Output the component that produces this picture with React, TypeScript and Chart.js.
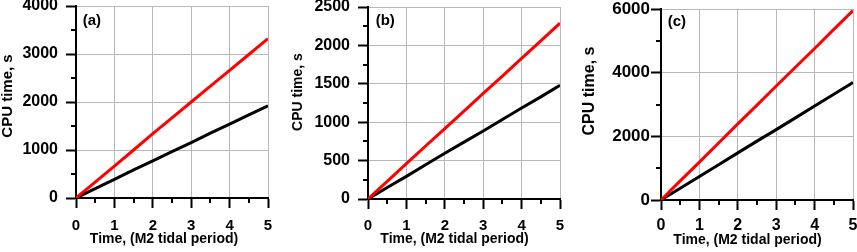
import React, { useEffect, useRef } from "react";
import { Chart, registerables } from "chart.js";

Chart.register(...registerables);

// ---- data ----
const TIME = [0, 0.5, 1, 1.5, 2, 2.5, 3, 3.5, 4, 4.5, 5];

const RED_A = [0, 330, 665, 1000, 1340, 1670, 2000, 2330, 2660, 2990, 3320];
const BLACK_A = [0, 195, 390, 585, 775, 965, 1155, 1350, 1540, 1730, 1920];

const RED_B = [0, 230, 460, 690, 915, 1145, 1375, 1600, 1830, 2060, 2290];
const BLACK_B = [0, 150, 295, 445, 595, 740, 885, 1035, 1185, 1330, 1480];

const RED_C = [0, 600, 1190, 1790, 2390, 2980, 3580, 4170, 4760, 5360, 5950];
const BLACK_C = [0, 370, 740, 1110, 1480, 1850, 2210, 2580, 2950, 3320, 3690];

const PANEL_LABELS = ["(a)", "(b)", "(c)"];
const Y_MAX = [4000, 2500, 6000];
const Y_STEP = [1000, 500, 2000];
const X_MAX = 5;
const X_STEP = 1;
const X_TITLE = "Time, (M2 tidal period)";
const Y_TITLE = "CPU time, s";

const RED_SERIES = [RED_A, RED_B, RED_C];
const BLACK_SERIES = [BLACK_A, BLACK_B, BLACK_C];

// ---- layout / style ----
const FONT = "'Liberation Sans', Arial, Helvetica, sans-serif";
const GRID = "#b8b8b8";
const H = 252;

const LAYOUT = [
  { left: 0, width: 285, plotLeft: 76, plotRight: 268, plotTop: 6, plotBottom: 198,
    yTickSize: 16, yTickPad: 8, xTickSize: 15, xTickPad: 9,
    yTitleSize: 15, yTitleX: 8, yTitleY: 96, xTitleDx: -8, xTitleY: 239, labelDx: 6.7, labelY: 25 },
  { left: 285, width: 285, plotLeft: 83, plotRight: 275, plotTop: 7, plotBottom: 199,
    yTickSize: 16, yTickPad: 8, xTickSize: 15, xTickPad: 8,
    yTitleSize: 14, yTitleX: 13, yTitleY: 92, xTitleDx: -9.5, xTitleY: 239.5, labelDx: 7.7, labelY: 25 },
  { left: 570, width: 287, plotLeft: 91, plotRight: 283, plotTop: 9, plotBottom: 200,
    yTickSize: 17, yTickPad: 1, xTickSize: 16, xTickPad: 6,
    yTitleSize: 16, yTitleX: 20, yTitleY: 91, xTitleDx: -9.5, xTitleY: 240.5, labelDx: 6.7, labelY: 25.5 },
];

const extrasPlugin = {
  id: "panelExtras",
  afterDraw(chart: any, _args: any, opts: any) {
    const { ctx, chartArea, scales } = chart;
    const x = scales.x;
    const y = scales.y;
    ctx.save();
    // minor ticks
    ctx.strokeStyle = "#000";
    ctx.lineWidth = 2;
    ctx.beginPath();
    for (let v = opts.yStep / 2; v < opts.yMax; v += opts.yStep) {
      const py = Math.round(y.getPixelForValue(v));
      ctx.moveTo(chartArea.left - 5, py);
      ctx.lineTo(chartArea.left, py);
    }
    for (let v = opts.xStep / 2; v < opts.xMax; v += opts.xStep) {
      const px = Math.round(x.getPixelForValue(v));
      ctx.moveTo(px, chartArea.bottom);
      ctx.lineTo(px, chartArea.bottom + 5);
    }
    ctx.stroke();

    ctx.fillStyle = "#000";
    // panel label
    ctx.font = `bold 15px ${FONT}`;
    ctx.textAlign = "left";
    ctx.textBaseline = "alphabetic";
    ctx.fillText(opts.label, chartArea.left + opts.labelDx, opts.labelY);

    // x title
    ctx.font = `bold 14px ${FONT}`;
    ctx.textAlign = "center";
    ctx.textBaseline = "middle";
    ctx.fillText(opts.xTitle, (chartArea.left + chartArea.right) / 2 + opts.xTitleDx, opts.xTitleY);

    // y title
    ctx.translate(opts.yTitleX, opts.yTitleY);
    ctx.rotate(-Math.PI / 2);
    ctx.font = `bold ${opts.yTitleSize}px ${FONT}`;
    ctx.fillText(opts.yTitle, 0, 0);
    ctx.restore();
  },
};

function Panel({ i }: { i: number }) {
  const ref = useRef<HTMLCanvasElement | null>(null);
  useEffect(() => {
    const L = LAYOUT[i];
    const red = RED_SERIES[i];
    const black = BLACK_SERIES[i];
    const gridColor = (c: any) =>
      c.tick && c.tick.value === 0 ? "rgba(0,0,0,0)" : GRID;
    const chart = new Chart(ref.current as HTMLCanvasElement, {
      type: "line",
      data: {
        datasets: [
          {
            data: TIME.map((t, k) => ({ x: t, y: red[k] })),
            borderColor: "#ff0000",
            borderWidth: 3,
            pointRadius: 0,
            tension: 0,
          },
          {
            data: TIME.map((t, k) => ({ x: t, y: black[k] })),
            borderColor: "#000000",
            borderWidth: 3,
            pointRadius: 0,
            tension: 0,
          },
        ],
      },
      options: {
        animation: false,
        responsive: false,
        events: [],
        layout: {
          padding: { left: 0, top: L.plotTop, right: L.width - L.plotRight, bottom: 0 },
        },
        plugins: {
          legend: { display: false },
          tooltip: { enabled: false },
          panelExtras: {
            label: PANEL_LABELS[i],
            labelDx: L.labelDx,
            labelY: L.labelY,
            xTitle: X_TITLE,
            xTitleDx: L.xTitleDx,
            xTitleY: L.xTitleY,
            yTitle: Y_TITLE,
            yTitleX: L.yTitleX,
            yTitleY: L.yTitleY,
            yTitleSize: L.yTitleSize,
            yStep: Y_STEP[i],
            yMax: Y_MAX[i],
            xStep: X_STEP,
            xMax: X_MAX,
          },
        } as any,
        scales: {
          x: {
            type: "linear",
            min: 0,
            max: X_MAX,
            ticks: {
              stepSize: X_STEP,
              color: "#000",
              padding: L.xTickPad,
              maxRotation: 0,
              font: { family: FONT, size: L.xTickSize, weight: "bold" },
              callback: (v: any) => String(v),
            },
            grid: {
              color: gridColor,
              lineWidth: 1,
              tickColor: "#000",
              tickWidth: 2,
              tickLength: 10,
            },
            border: { color: "#000", width: 2 },
            afterFit: (s: any) => {
              s.height = H - L.plotBottom;
              s.paddingLeft = 0;
              s.paddingRight = 0;
            },
          },
          y: {
            type: "linear",
            min: 0,
            max: Y_MAX[i],
            ticks: {
              stepSize: Y_STEP[i],
              color: "#000",
              padding: L.yTickPad,
              font: { family: FONT, size: L.yTickSize, weight: "bold" },
              callback: (v: any) => String(v),
            },
            grid: {
              color: gridColor,
              lineWidth: 1,
              tickColor: "#000",
              tickWidth: 2,
              tickLength: 10,
            },
            border: { color: "#000", width: 2 },
            afterFit: (s: any) => {
              s.width = L.plotLeft;
              s.paddingTop = 0;
              s.paddingBottom = 0;
            },
          },
        },
      } as any,
      plugins: [extrasPlugin],
    });
    return () => chart.destroy();
  }, [i]);
  const L = LAYOUT[i];
  return (
    <canvas
      ref={ref}
      width={L.width}
      height={H}
      style={{ position: "absolute", left: L.left, top: 0, width: L.width, height: H }}
    />
  );
}

export default function App() {
  return (
    <div
      style={{
        position: "fixed",
        left: 0,
        top: 0,
        width: 857,
        height: H,
        background: "#fff",
        overflow: "hidden",
      }}
    >
      <Panel i={0} />
      <Panel i={1} />
      <Panel i={2} />
    </div>
  );
}
